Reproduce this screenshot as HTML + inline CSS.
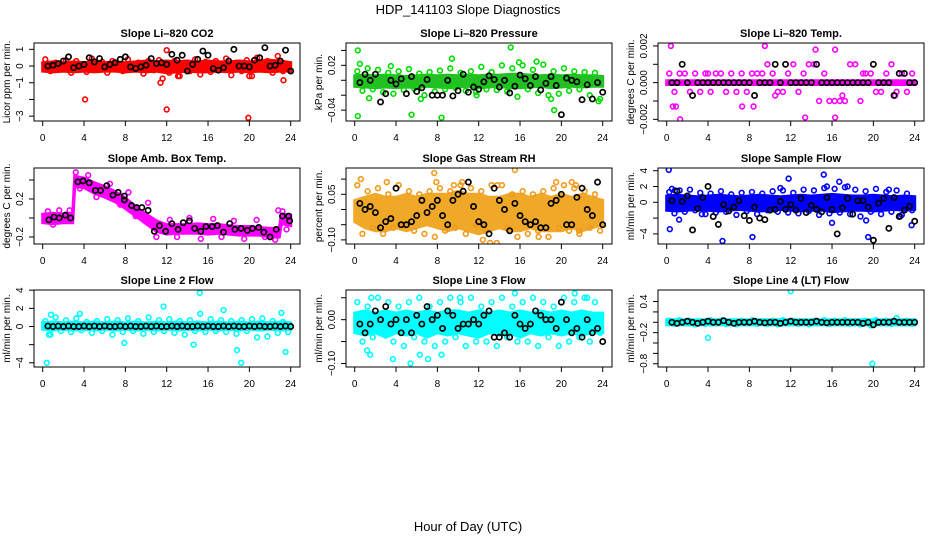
<!DOCTYPE html>
<html><head><meta charset="utf-8"><style>
html,body{margin:0;padding:0;background:#fff;}
svg{display:block;font-family:"Liberation Sans",Arial,sans-serif;}
</style></head><body>
<svg id="chart" width="936" height="540" viewBox="0 0 936 540">
<text x="468" y="14" text-anchor="middle" font-size="13">HDP_141103  Slope Diagnostics</text>
<text x="468" y="531" text-anchor="middle" font-size="13">Hour of Day (UTC)</text>
</svg>
<script>
// ---------- data ----------
const xTicks = [0,4,8,12,16,20,24];
const hourly = [0,1,2,3,4,5,6,7,8,9,10,11,12,13,14,15,16,17,18,19,20,21,22,23,24];

const co2BandLo = [-0.3,-0.35,-0.3,-0.35,-0.3,-0.35,-0.3,-0.3,-0.35,-0.3,-0.35,-0.3,-0.4,-0.35,-0.3,-0.35,-0.35,-0.3,-0.35,-0.3,-0.35,-0.3,-0.35,-0.3,-0.3];
const co2BandHi = [0.2,0.25,0.2,0.25,0.2,0.25,0.2,0.25,0.2,0.25,0.3,0.25,0.3,0.25,0.3,0.25,0.3,0.25,0.25,0.3,0.25,0.3,0.35,0.3,0.2];
const co2Scatter = [0.4,-0.3,0.2,-0.2,0.35,-0.4,0.3,0.1,-0.35,0.45,-0.2,0.25,-0.4,0.3,0.0,-0.3,0.4,-0.15,0.2,-0.45,0.3,-0.25,0.35,0.1,-0.4,0.3,-0.6,0.2,-0.3,0.4,-0.5,0.25,-0.35,0.3,-0.2,0.45,-0.55,0.2,-0.3,0.35,-0.6,0.5,-0.2,0.3,-0.4,0.6,-0.3,0.1];
const co2OutH = [4.1,12.0,19.9,11.4,11.6,12.0,23.3,13.1,20.0];
const co2OutV = [-2.0,-2.6,-3.1,-1.0,-0.75,0.95,-0.85,-0.6,-0.6];
const co2Black = [0.0,0.05,0.15,0.3,0.55,-0.1,0.0,0.1,0.5,0.25,0.45,-0.05,0.1,0.2,0.4,0.55,-0.05,-0.15,-0.05,0.05,0.45,0.15,0.2,0.1,0.7,0.35,0.65,-0.3,0.1,0.4,0.9,0.65,-0.15,-0.25,-0.1,0.3,1.0,0.0,0.0,-0.05,0.35,0.5,1.1,0.0,0.05,0.3,0.95,-0.3];

const prBandLo = [-0.008,-0.009,-0.01,-0.009,-0.01,-0.009,-0.01,-0.008,-0.009,-0.01,-0.009,-0.008,-0.01,-0.009,-0.008,-0.01,-0.01,-0.009,-0.008,-0.01,-0.009,-0.008,-0.009,-0.008,-0.008];
const prBandHi = [0.006,0.007,0.006,0.007,0.006,0.005,0.006,0.007,0.006,0.007,0.006,0.007,0.006,0.007,0.007,0.008,0.008,0.007,0.006,0.007,0.006,0.007,0.006,0.006,0.005];
const prScatter = [0.012,-0.014,0.016,-0.012,0.014,-0.016,0.01,-0.018,0.012,-0.013,0.015,-0.011,0.009,-0.02,0.011,-0.015,0.013,-0.012,0.016,-0.01,0.01,-0.014,0.012,-0.016,0.018,-0.012,0.011,-0.013,0.02,-0.015,0.016,-0.022,0.02,-0.012,0.014,-0.017,0.021,-0.02,0.012,-0.018,0.016,-0.014,0.012,-0.012,0.011,-0.02,0.01,-0.025];
const prOutH = [0.3,0.3,0.5,1.4,3.5,5.5,6.4,8.4,9.4,11.8,15.1,15.9,17.6,19.3,19.0,23.6];
const prOutV = [0.04,-0.048,0.022,-0.024,0.019,-0.046,-0.025,-0.05,0.029,-0.02,0.044,0.024,0.025,-0.04,-0.025,-0.028];
const prBlack = [-0.003,0.008,0.0,0.008,-0.029,-0.018,0.0,-0.005,0.002,-0.018,0.005,-0.015,-0.01,0.001,-0.02,-0.02,-0.02,0.0,-0.021,-0.014,0.008,-0.016,-0.009,-0.012,-0.002,0.006,0.001,-0.009,0.0,-0.017,-0.008,0.007,0.002,-0.007,0.005,-0.013,-0.004,0.005,-0.007,-0.046,0.003,0.0,-0.002,-0.026,-0.006,-0.025,-0.003,-0.016];

const tpBandLo = [-0.0001,-0.0001,-0.0001,-0.0001,-0.0001,-0.0001,-0.0001,-0.0001,-0.0001,-0.0001,-0.0001,-0.0001,-0.0001,-0.0001,-0.0001,-0.0001,-0.0001,-0.0001,-0.0001,-0.0001,-0.0001,-0.0001,-0.0001,-0.0001,-0.0001];
const tpBandHi = [0.0001,0.0001,0.0001,0.0001,0.0001,0.0001,0.0001,0.0001,0.0001,0.0001,0.0001,0.0001,0.0001,0.0001,0.0001,0.0001,0.0001,0.0001,0.0001,0.0001,0.0001,0.0001,0.0001,0.0001,0.0001];
const tpScatter = [0.0005,-0.0005,0.0005,0.0005,-0.0005,0.0005,-0.0005,0.0005,-0.0005,0.0005,0.0005,-0.0005,0.0005,-0.0005,0.0005,-0.0005,0.0005,0.0005,0.0005,0.001,0.0005,-0.0005,-0.0005,0.0005,0.001,-0.0005,0.0005,0.001,0.001,-0.001,0.0005,-0.001,-0.001,-0.001,-0.001,0.001,0.001,-0.001,0.0005,0.0005,-0.0005,-0.0005,0.0005,0.001,-0.0005,0.0005,-0.0005,0.0005];
const tpOutH = [0.4,1.3,9.5,13.4,16.3,0.6,0.9,14.4,16.3,4.0,7.3,8.4,10.5,17.0,19.0,22.1];
const tpOutV = [0.002,-0.002,0.002,-0.0019,-0.0019,-0.0013,-0.0013,0.0018,0.0018,0.0005,-0.0013,-0.0013,-0.0007,-0.0007,0.0005,-0.0007];
const tpBlack = [0,0,0.001,0,-0.0007,0,0,0,0,0,0,0,0,0,0,0,-0.0007,0,0,0,0.001,0,0.001,0,0,0,0,0,0.001,0,0,0,0,0,0,0,0,0,0,0.001,0,0,0,-0.0007,0.0005,0.0005,0,0];

const abBandH = [0,1,2,2.9,3.1,4,5,6,7,8,9,10,11,12,13,14,15,16,17,18,19,20,21,22,22.9,23.1,24];
const abBandLo = [-0.05,-0.06,-0.05,-0.05,0.33,0.32,0.26,0.22,0.17,0.1,0.02,-0.06,-0.14,-0.17,-0.16,-0.16,-0.16,-0.17,-0.16,-0.17,-0.18,-0.18,-0.18,-0.2,-0.2,-0.06,-0.08];
const abBandHi = [0.04,0.05,0.04,0.04,0.44,0.42,0.37,0.33,0.28,0.21,0.12,0.04,-0.03,-0.07,-0.07,-0.07,-0.06,-0.07,-0.07,-0.08,-0.09,-0.09,-0.1,-0.11,-0.11,0.04,0.03];
const abScatterH = [0.5,1.0,1.6,2.6,3.2,3.6,4.4,5.2,6.5,7.5,8.3,9.0,10.2,11.0,12.3,13.0,14.2,15.3,16.5,17.3,18.5,19.5,20.7,21.5,22.5,22.8,23.2,23.6];
const abScatterV = [0.07,-0.07,0.08,0.08,0.48,0.31,0.45,0.22,0.36,0.14,0.27,0.02,0.16,-0.2,-0.02,-0.2,0.0,-0.22,-0.01,-0.2,-0.03,-0.22,-0.02,-0.2,-0.23,0.08,0.07,-0.12];
const abBlackH = [0.6,1.1,1.6,2.2,2.7,3.4,3.9,4.5,5.1,5.6,6.2,6.8,7.3,7.9,7.9,8.6,9.1,9.6,10.2,10.8,11.3,11.9,12.5,13.1,13.6,14.2,14.7,15.3,15.8,16.4,16.9,17.5,18.1,18.6,19.2,19.8,20.3,20.9,21.4,22.0,22.6,23.2,23.8,23.9];
const abBlackV = [-0.02,0.01,0.0,0.03,0.0,0.38,0.39,0.37,0.29,0.29,0.34,0.24,0.27,0.23,0.19,0.13,0.11,0.11,0.08,-0.14,-0.08,-0.14,-0.06,-0.12,-0.05,-0.03,-0.11,-0.14,-0.09,-0.09,-0.08,-0.15,-0.06,-0.12,-0.11,-0.13,-0.11,-0.1,-0.15,-0.2,-0.12,0.02,0.02,-0.03];

const rhBandLo = [-0.04,-0.06,-0.07,-0.07,-0.06,-0.07,-0.06,-0.05,-0.06,-0.07,-0.06,-0.07,-0.08,-0.07,-0.06,-0.07,-0.07,-0.06,-0.07,-0.07,-0.07,-0.06,-0.07,-0.06,-0.05];
const rhBandHi = [0.03,0.04,0.05,0.04,0.04,0.05,0.04,0.05,0.05,0.05,0.06,0.05,0.05,0.04,0.04,0.05,0.05,0.04,0.05,0.04,0.05,0.04,0.05,0.04,0.03];
const rhScatter = [0.08,-0.08,0.06,-0.06,0.07,-0.08,0.05,-0.06,0.08,-0.05,0.06,-0.07,0.05,-0.08,0.06,-0.09,0.07,-0.07,0.06,-0.06,0.08,-0.08,0.07,-0.05,0.06,-0.07,0.08,-0.11,0.08,-0.06,0.05,-0.09,0.06,-0.08,0.05,-0.07,0.06,-0.09,0.07,-0.06,0.08,-0.07,0.07,-0.08,0.06,-0.06,0.05,-0.07];
const rhOutH = [0.6,3.1,7.7,7.9,9.6,10.4,12.4,13.1,13.8,15.5,17.8,19.5,21.0,21.4,21.7];
const rhOutV = [0.1,0.09,0.12,0.09,0.08,0.09,-0.1,-0.11,0.08,0.13,-0.09,0.09,0.09,0.08,-0.07];
const rhBlack = [0.02,0.0,0.01,-0.01,-0.06,-0.04,-0.03,0.07,-0.05,-0.05,-0.04,-0.02,0.03,-0.01,0.01,0.03,-0.02,-0.05,0.03,0.05,0.06,0.09,0.01,-0.04,-0.05,-0.08,0.07,0.03,0.0,-0.07,0.02,-0.02,-0.04,-0.05,-0.04,-0.06,-0.06,0.02,0.03,0.05,-0.05,-0.05,0.04,0.07,0.0,-0.02,0.09,-0.05];

const sfBandLo = [-1.0,-1.1,-1.0,-0.9,-1.0,-1.1,-1.0,-0.9,-1.0,-1.1,-1.0,-0.9,-1.0,-1.1,-1.0,-1.0,-1.2,-1.1,-1.0,-1.0,-1.1,-1.0,-0.9,-1.0,-0.9];
const sfBandHi = [0.8,0.9,0.8,0.7,0.8,0.9,0.8,0.7,0.8,0.9,0.8,0.7,0.8,0.9,0.8,0.9,1.0,0.9,0.8,0.8,0.9,0.8,0.7,0.8,0.7];
const sfScatter = [1.3,-1.4,1.5,-1.2,1.6,-1.0,1.2,-1.5,1.1,-1.3,1.4,-1.2,1.0,-1.6,1.2,-1.1,1.3,-1.5,1.1,-1.0,1.4,-1.2,1.5,-1.3,1.2,-1.4,1.6,-1.1,1.5,-1.6,1.8,-1.4,1.7,-1.3,1.9,-1.5,1.6,-1.8,1.4,-1.2,1.7,-1.5,1.3,-1.2,1.5,-1.6,1.1,-1.0];
const sfOutH = [0.2,0.3,0.5,0.8,1.2,3.4,5.4,8.3,11.0,11.8,15.2,15.5,16.0,16.7,17.5,19.3,19.5,21.5,22.6,23.7];
const sfOutV = [4.1,-3.4,1.7,1.5,-2.2,-1.5,-4.9,-4.4,1.8,3.0,3.5,2.0,-2.6,2.6,2.0,-2.3,-4.4,1.6,-1.8,-2.9];
const sfBlack = [0.2,1.4,0.1,0.8,-3.5,-0.8,0.6,2.0,-1.8,-2.8,-0.3,-1.1,-0.6,0.2,-1.7,-2.3,-0.6,-2.0,-2.2,-1.0,-0.9,0.1,-0.9,-0.3,-1.0,0.5,-1.3,-0.4,-0.9,-1.2,0.6,-0.9,-4.0,-0.7,0.5,-1.5,0.2,0.2,-0.6,-4.8,-0.1,0.5,-3.3,0.6,-1.8,-1.0,-0.5,-2.4];

const l2BandLo = [-0.3,-0.4,-0.3,-0.4,-0.3,-0.4,-0.3,-0.4,-0.3,-0.4,-0.3,-0.4,-0.3,-0.4,-0.3,-0.4,-0.3,-0.4,-0.3,-0.4,-0.3,-0.4,-0.3,-0.4,-0.3];
const l2BandHi = [0.4,0.5,0.4,0.5,0.4,0.5,0.4,0.5,0.4,0.5,0.4,0.5,0.4,0.5,0.4,0.5,0.4,0.5,0.4,0.5,0.4,0.5,0.4,0.5,0.4];
const l2Scatter = [0.6,-0.9,1.0,-0.5,0.7,-0.6,0.9,-0.4,0.5,-0.7,0.6,-0.5,0.8,-0.9,0.7,-0.6,0.9,-0.5,0.6,-0.8,1.0,-0.6,0.7,-0.5,0.8,-0.7,0.6,-0.9,0.7,-0.5,1.4,-0.6,0.8,-0.5,0.7,-0.6,0.6,-0.8,0.7,-0.5,0.8,-1.2,0.9,-1.1,0.6,-0.7,0.5,-0.6];
const l2OutH = [0.4,0.6,0.8,3.6,11.7,15.2,14.6,18.8,19.2,23.5,23.1,7.9,17.5];
const l2OutV = [-4.0,-0.9,1.3,1.4,2.2,3.7,-2.0,-2.6,-4.0,-2.8,1.5,-1.8,1.8];
const l2Black = [0.05,0.0,0.05,0.0,0.05,0.0,0.0,0.05,0.0,0.05,0.0,0.05,0.0,0.0,0.05,0.0,0.05,0.0,0.0,0.05,0.0,0.05,0.0,0.0,0.05,0.0,0.05,0.0,0.0,0.05,0.0,0.05,0.0,0.0,0.05,0.0,0.05,0.0,0.0,0.05,0.0,0.05,0.0,0.0,0.05,0.0,0.05,0.0];

const l3BandLo = [-0.03,-0.035,-0.03,-0.04,-0.03,-0.035,-0.03,-0.04,-0.03,-0.035,-0.03,-0.035,-0.04,-0.03,-0.035,-0.03,-0.04,-0.03,-0.035,-0.03,-0.035,-0.03,-0.035,-0.03,-0.03];
const l3BandHi = [0.015,0.02,0.015,0.02,0.015,0.02,0.015,0.02,0.015,0.02,0.02,0.015,0.02,0.015,0.02,0.015,0.02,0.015,0.02,0.015,0.02,0.015,0.02,0.015,0.015];
const l3Scatter = [0.04,-0.05,0.03,-0.04,0.05,-0.03,0.04,-0.05,0.03,-0.06,0.04,-0.04,0.05,-0.05,0.03,-0.06,0.04,-0.05,0.05,-0.04,0.04,-0.06,0.05,-0.05,0.03,-0.05,0.04,-0.06,0.05,-0.04,0.03,-0.05,0.04,-0.05,0.05,-0.06,0.04,-0.04,0.03,-0.06,0.05,-0.05,0.04,-0.04,0.05,-0.05,0.04,-0.03];
const l3OutH = [1.2,1.5,3.7,5.4,6.3,7.1,8.4,15.5,21.3,1.6,10.2,22.5];
const l3OutV = [-0.07,-0.08,-0.09,-0.1,-0.08,-0.09,-0.08,0.06,0.06,0.05,0.05,0.05];
const l3Black = [-0.01,-0.03,-0.01,0.02,0.0,0.03,-0.01,0.0,-0.03,0.0,-0.03,0.01,-0.01,0.03,0.0,0.01,-0.02,0.02,0.01,-0.02,-0.01,-0.01,0.0,-0.01,0.01,0.02,-0.04,-0.04,-0.03,-0.04,0.01,-0.01,-0.02,-0.01,0.02,0.01,0.0,0.0,-0.02,0.04,0.0,-0.03,-0.02,-0.04,0.0,-0.03,-0.02,-0.05];

const l4BandLo = [-0.05,-0.05,-0.05,-0.05,-0.05,-0.05,-0.05,-0.05,-0.05,-0.05,-0.05,-0.05,-0.05,-0.05,-0.05,-0.05,-0.05,-0.05,-0.05,-0.05,-0.05,-0.05,-0.05,-0.05,-0.05];
const l4BandHi = [0.05,0.05,0.05,0.05,0.05,0.05,0.05,0.05,0.05,0.05,0.05,0.05,0.05,0.05,0.05,0.05,0.05,0.05,0.05,0.05,0.05,0.05,0.05,0.05,0.05];
const l4Scatter = [0.03,-0.03,0.04,-0.02,0.03,-0.04,0.02,-0.03,0.04,-0.02,0.03,-0.03,0.02,-0.04,0.03,-0.02,0.04,-0.03,0.02,-0.03,0.03,-0.04,0.04,-0.02,0.03,-0.03,0.02,-0.04,0.03,-0.02,0.04,-0.03,0.03,-0.02,0.04,-0.03,0.02,-0.04,0.03,-0.06,0.04,-0.02,0.03,-0.03,0.08,-0.02,0.03,-0.03];
const l4OutH = [4.0,12.0,19.9];
const l4OutV = [-0.3,0.6,-0.8];
const l4Black = [0.0,-0.02,0.0,0.02,0.0,-0.02,0.0,0.02,0.0,0.0,0.03,0.0,-0.02,0.0,0.0,0.0,0.02,0.0,-0.01,0.0,0.0,-0.02,0.0,0.02,0.0,0.0,0.0,0.0,0.02,0.0,-0.01,0.0,0.0,0.0,0.0,0.0,0.0,-0.02,0.0,-0.05,0.0,0.0,0.0,0.02,0.0,0.0,0.0,0.0];

// ---------- layout (not data) ----------
const NS = "http://www.w3.org/2000/svg";
const svg = document.getElementById('chart');
const colL = [34, 346, 658];
const rowT = [43, 168, 290];
const rowB = [121, 244, 367];
const BOXW = 266;

const panels = [
 {name:'co2', title:'Slope Li\u2013820 CO2', ylab:'Licor ppm per min.', c:0, r:0, ymin:-3.29, ymax:1.38, ticks:[1,0,-1,-2,-3], labels:['1','0','\u22121',null,'\u22123'], col:'#ff0000', bandCol:'#ff0000',
  bH:hourly, bLo:co2BandLo, bHi:co2BandHi, sV:co2Scatter, oH:co2OutH, oV:co2OutV, kV:co2Black},
 {name:'pressure', title:'Slope Li\u2013820 Pressure', ylab:'kPa per min.', c:1, r:0, ymin:-0.0545, ymax:0.0499, ticks:[0.04,0.02,0,-0.02,-0.04], labels:[null,'0.02',null,null,'\u22120.04'], col:'#00dd00', bandCol:'#22c022',
  bH:hourly, bLo:prBandLo, bHi:prBandHi, sV:prScatter, oH:prOutH, oV:prOutV, kV:prBlack},
 {name:'li-temp', title:'Slope Li\u2013820 Temp.', ylab:'degrees C per min.', c:2, r:0, ymin:-0.00209, ymax:0.00216, ticks:[0.002,0.001,0,-0.001,-0.002], labels:['0.002',null,'0.000',null,'\u22120.002'], col:'#ff00ff', bandCol:'#ff00ff',
  bH:hourly, bLo:tpBandLo, bHi:tpBandHi, sV:tpScatter, oH:tpOutH, oV:tpOutV, kV:tpBlack},
 {name:'amb-temp', title:'Slope Amb. Box Temp.', ylab:'degrees C per min.', c:0, r:1, ymin:-0.274, ymax:0.526, ticks:[0.4,0.2,0,-0.2], labels:[null,'0.2',null,'\u22120.2'], col:'#ff00ff', bandCol:'#ff00ff',
  bH:abBandH, bLo:abBandLo, bHi:abBandHi, sH:abScatterH, sV:abScatterV, oH:[], oV:[], kH:abBlackH, kV:abBlackV},
 {name:'gas-rh', title:'Slope Gas Stream RH', ylab:'percent per min.', c:1, r:1, ymin:-0.1135, ymax:0.1365, ticks:[0.1,0.05,0,-0.05,-0.1], labels:[null,'0.05',null,null,'\u22120.10'], col:'#f29a1a', bandCol:'#f0a828',
  bH:hourly, bLo:rhBandLo, bHi:rhBandHi, sV:rhScatter, oH:rhOutH, oV:rhOutV, kV:rhBlack},
 {name:'sample-flow', title:'Slope Sample Flow', ylab:'ml/min per min.', c:2, r:1, ymin:-5.28, ymax:4.34, ticks:[4,2,0,-2,-4], labels:['4','2','0',null,'\u22124'], col:'#0000ff', bandCol:'#0000ff',
  bH:hourly, bLo:sfBandLo, bHi:sfBandHi, sV:sfScatter, oH:sfOutH, oV:sfOutV, kV:sfBlack},
 {name:'line2-flow', title:'Slope Line 2 Flow', ylab:'ml/min per min.', c:0, r:2, ymin:-4.46, ymax:4.02, ticks:[4,2,0,-2,-4], labels:['4','2','0',null,'\u22124'], col:'#00ffff', bandCol:'#00ffff',
  bH:hourly, bLo:l2BandLo, bHi:l2BandHi, sV:l2Scatter, oH:l2OutH, oV:l2OutV, kV:l2Black},
 {name:'line3-flow', title:'Slope Line 3 Flow', ylab:'ml/min per min.', c:1, r:2, ymin:-0.108, ymax:0.0677, ticks:[0.05,0,-0.05,-0.1], labels:[null,'0.00',null,'\u22120.10'], col:'#00ffff', bandCol:'#00ffff',
  bH:hourly, bLo:l3BandLo, bHi:l3BandHi, sV:l3Scatter, oH:l3OutH, oV:l3OutV, kV:l3Black},
 {name:'line4-flow', title:'Slope Line 4 (LT) Flow', ylab:'ml/min per min.', c:2, r:2, ymin:-0.863, ymax:0.623, ticks:[0.4,0.2,0,-0.2,-0.4,-0.6,-0.8], labels:['0.4',null,null,'\u22120.2',null,null,'\u22120.8'], col:'#00ffff', bandCol:'#00ffff',
  bH:hourly, bLo:l4BandLo, bHi:l4BandHi, sV:l4Scatter, oH:l4OutH, oV:l4OutV, kV:l4Black}
];

function mk(tag, attrs, parent){
  const e = document.createElementNS(NS, tag);
  for (const k in attrs) e.setAttribute(k, attrs[k]);
  (parent||svg).appendChild(e);
  return e;
}

panels.forEach(p => {
  const L = colL[p.c], T = rowT[p.r], B = rowB[p.r];
  const xs = h => L + 8.7 + h * (248 / 24);
  const ys = v => B - (v - p.ymin) / (p.ymax - p.ymin) * (B - T);
  const g = mk('g', {});
  
  

  const clip = mk('clipPath', {id:'clip-' + p.name}, g);
  mk('rect', {x:L, y:T, width:BOXW, height:B - T}, clip);
  const plot = mk('g', {'clip-path':'url(#clip-' + p.name + ')'}, g);
  
  

  // band
  let d = '';
  p.bH.forEach((h, i) => { d += (i ? 'L' : 'M') + xs(h).toFixed(1) + ',' + ys(p.bHi[i]).toFixed(1); });
  for (let i = p.bH.length - 1; i >= 0; i--) d += 'L' + xs(p.bH[i]).toFixed(1) + ',' + ys(p.bLo[i]).toFixed(1);
  const band = mk('path', {d: d + 'Z', fill:p.bandCol, stroke:p.bandCol, 'stroke-width':3}, plot);
  
  

  // colored scatter
  p.sV.forEach((v, i) => {
    const h = p.sH ? p.sH[i] : i * 0.5 + 0.25;
    const c = mk('circle', {cx:xs(h), cy:ys(v), r:2.4, fill:'none', stroke:p.col, 'stroke-width':1.6}, plot);
    
    
  });
  p.oV.forEach((v, i) => {
    const c = mk('circle', {cx:xs(p.oH[i]), cy:ys(v), r:2.4, fill:'none', stroke:p.col, 'stroke-width':1.6}, plot);
    
    
  });
  // black points
  p.kV.forEach((v, i) => {
    const h = p.kH ? p.kH[i] : i * 0.5 + 0.5;
    const c = mk('circle', {cx:xs(h), cy:ys(v), r:2.6, fill:'none', stroke:'#000', 'stroke-width':1.7}, plot);
    
    
  });

  // box
  const box = mk('rect', {x:L, y:T, width:BOXW, height:B - T, fill:'none', stroke:'#000', 'stroke-width':1}, g);
  
  

  // x axis
  const xa = mk('g', {}, g);
  
  
  mk('line', {x1:xs(0), x2:xs(24), y1:B, y2:B, stroke:'#000'}, xa);
  xTicks.forEach(t => {
    mk('line', {x1:xs(t), x2:xs(t), y1:B, y2:B + 5, stroke:'#000'}, xa);
    const tx = mk('text', {x:xs(t), y:B + 20, 'text-anchor':'middle', 'font-size':10}, xa);
    tx.textContent = t;
    
    
  });

  // y axis
  const ya = mk('g', {}, g);
  
  
  const tks = p.ticks.map(ys);
  mk('line', {x1:L, x2:L, y1:Math.min(...tks), y2:Math.max(...tks), stroke:'#000'}, ya);
  p.ticks.forEach((t, i) => {
    const y = ys(t);
    mk('line', {x1:L - 5, x2:L, y1:y, y2:y, stroke:'#000'}, ya);
    if (p.labels[i] !== null) {
      const tx = mk('text', {x:L - 11, y:y, 'text-anchor':'middle', 'font-size':10, transform:'rotate(-90 ' + (L - 11) + ' ' + y + ')'}, ya);
      tx.textContent = p.labels[i];
      
      
    }
  });
  const yc = (T + B) / 2;
  const yl = mk('text', {x:L - 24, y:yc, 'text-anchor':'middle', 'font-size':10, transform:'rotate(-90 ' + (L - 24) + ' ' + yc + ')'}, g);
  yl.textContent = p.ylab;
  
  

  const tt = mk('text', {x:L + BOXW / 2, y:T - 6, 'text-anchor':'middle', 'font-size':11, 'font-weight':'bold'}, g);
  tt.textContent = p.title;
  
  
});
</script>
</body></html>
